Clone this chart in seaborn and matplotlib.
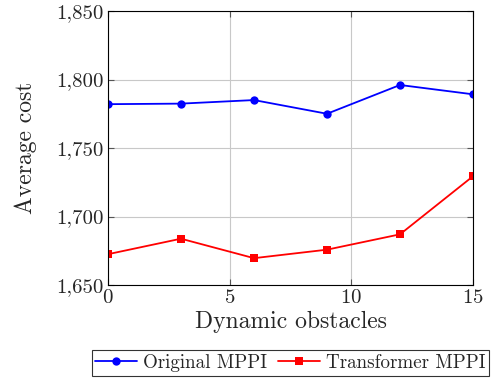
import matplotlib
matplotlib.use("Agg")
import matplotlib.pyplot as plt
from matplotlib.ticker import FuncFormatter
import seaborn as sns
import pandas as pd

obstacles = [0, 3, 6, 9, 12, 15]
original_mppi = [1782, 1782.4, 1785, 1775, 1796, 1789.2]
transformer_mppi = [1672.5, 1683.8, 1669.6, 1675.8, 1687, 1729.4]
series_names = ["Original MPPI", "Transformer MPPI"]

df = pd.concat([
    pd.DataFrame({"obstacles": obstacles, "cost": original_mppi, "method": series_names[0]}),
    pd.DataFrame({"obstacles": obstacles, "cost": transformer_mppi, "method": series_names[1]}),
])

sns.set_theme(style="white")
plt.rcParams["font.family"] = ["cmr10", "DejaVu Serif"]
plt.rcParams["axes.formatter.use_mathtext"] = True

fig = plt.figure(figsize=(4.94, 3.85), dpi=100)
ax = fig.add_axes([0.2186, 0.2597, 0.7389, 0.7117])

sns.lineplot(data=df, x="obstacles", y="cost", hue="method", style="method",
             palette={series_names[0]: "#0000ff", series_names[1]: "#ff0000"},
             markers={series_names[0]: "o", series_names[1]: "s"},
             dashes=False, markersize=6, markeredgewidth=0, linewidth=1.3,
             ax=ax, legend=True)

ax.set_xlim(0, 15)
ax.set_ylim(1650, 1850)
ax.set_xticks([0, 5, 10, 15])
ax.set_yticks([1650, 1700, 1750, 1800, 1850])
ax.yaxis.set_major_formatter(FuncFormatter(lambda v, p: f"{int(v):,}"))
ax.grid(True, color="#c8c8c8", linewidth=0.8)
ax.set_axisbelow(True)
for s in ax.spines.values():
    s.set_color("black")
    s.set_linewidth(0.8)
ax.tick_params(direction="in", length=4, width=0.8, color="#555555",
               labelsize=15, top=True, right=True, bottom=True, left=True,
               pad=3)
ax.set_xlabel("Dynamic obstacles", fontsize=17, labelpad=3)
ax.set_ylabel("Average cost", fontsize=17, labelpad=14)

leg = ax.legend(loc="upper center", bbox_to_anchor=(0.5, -0.237), ncol=2,
                frameon=True, fancybox=False, fontsize=13.7, handlelength=2.2,
                columnspacing=0.6, handletextpad=0.3, borderpad=0.2,
                borderaxespad=0)
leg.get_frame().set_edgecolor("black")
leg.get_frame().set_linewidth(0.8)

fig.savefig("out.png", dpi=100)
